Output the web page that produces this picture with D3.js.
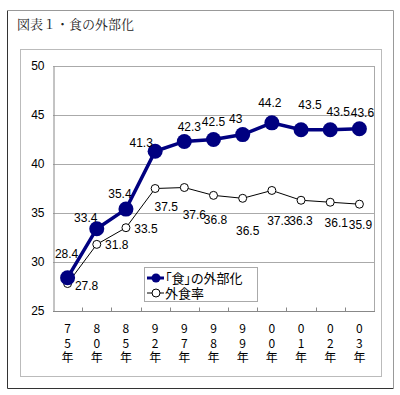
<!DOCTYPE html>
<html>
<head>
<meta charset="utf-8">
<script src="https://cdn.jsdelivr.net/npm/d3@7"></script>
<style>
  body { margin: 0; background: #fff; }
  svg { display: block; }
</style>
</head>
<body>
<svg id="chart" width="400" height="395"></svg>
<script>
const years = ['75', '80', '85', '92', '97', '98', '99', '00', '01', '02', '03'];
const gaibuka = [28.4, 33.4, 35.4, 41.3, 42.3, 42.5, 43, 44.2, 43.5, 43.5, 43.6];
const gaishoku = [27.8, 31.8, 33.5, 37.5, 37.6, 36.8, 36.5, 37.3, 36.3, 36.1, 35.9];
const yTicks = [25, 30, 35, 40, 45, 50];
const seriesNames = ['「食」の外部化', '外食率'];

// label nudges (dx, dy), relative to each point
const nudge1 = [[-1, -20], [-11, -7], [-6, -11], [-14, -4], [5, -10], [0, -14], [-7, -12], [-2, -16], [9, -21], [8, -14], [3, -12]];
const nudge2 = [[19, 6], [20, 5], [20, 5], [11, 22], [10, 31], [2, 29], [5, 37], [7, 35], [0, 25], [6, 25], [1, 25]];

const SVG = d3.select('#chart');
const JP = '"Noto Sans CJK JP", sans-serif';
const NUM = '"Liberation Sans", Arial, sans-serif';

// outer frame (inset look)
SVG.append('path').attr('d', 'M7.5,388.5 V10.5').attr('stroke', '#333').attr('fill', 'none');
SVG.append('path').attr('d', 'M7.5,388.5 H393.5').attr('stroke', '#333').attr('fill', 'none');
SVG.append('path').attr('d', 'M7.5,10.5 H393.5 V388.5').attr('stroke', '#999').attr('fill', 'none');

SVG.append('text')
  .text('図表１・食の外部化')
  .attr('x', 17).attr('y', 29)
  .style('font-family', '"Noto Serif CJK JP", ' + JP)
  .style('font-size', '13px')
  .style('fill', '#222');

// chart area frame
SVG.append('rect')
  .attr('x', 20.5).attr('y', 49.5).attr('width', 361).attr('height', 327)
  .attr('fill', 'none').attr('stroke', '#bbb');

const M = { left: 53, top: 66, right: 374, bottom: 311 };

const x = d3.scaleBand().domain(years).range([M.left, M.right]);
const y = d3.scaleLinear().domain([25, 50]).range([M.bottom, M.top]);
const cx = (i) => x(years[i]) + x.bandwidth() / 2;

// grid
SVG.append('g').selectAll('line')
  .data(yTicks.slice(1))
  .join('line')
  .attr('x1', M.left).attr('x2', M.right)
  .attr('y1', (d) => Math.round(y(d)) + 0.5).attr('y2', (d) => Math.round(y(d)) + 0.5)
  .attr('stroke', '#aaa');

SVG.append('line')
  .attr('x1', M.right + 0.5).attr('x2', M.right + 0.5)
  .attr('y1', M.top).attr('y2', M.bottom)
  .attr('stroke', '#aaa');

// y axis
const yAxis = SVG.append('g')
  .attr('transform', `translate(${M.left + 0.5},0)`)
  .call(d3.axisLeft(y).tickValues(yTicks).tickSize(0).tickPadding(9));
yAxis.select('.domain').attr('stroke', '#888');
yAxis.selectAll('text')
  .style('font-family', NUM).style('font-size', '12px').style('fill', '#000');

// x axis with inner ticks on band edges
const xAxisG = SVG.append('g').attr('transform', `translate(0,${M.bottom + 0.5})`);
xAxisG.append('line')
  .attr('x1', M.left).attr('x2', M.right + 1)
  .attr('stroke', '#888');
xAxisG.selectAll('.tk')
  .data(years.slice(1))
  .join('line')
  .attr('class', 'tk')
  .attr('x1', (d) => Math.round(x(d)) + 0.5).attr('x2', (d) => Math.round(x(d)) + 0.5)
  .attr('y1', 0).attr('y2', -4)
  .attr('stroke', '#888');

// vertical category labels: one text per character
const xLab = SVG.append('g');
[0, 1, 2].forEach((k) => {
  xLab.append('g').selectAll('text')
    .data(years)
    .join('text')
    .attr('x', (d) => x(d) + x.bandwidth() / 2)
    .attr('y', 333 + k * 14.5)
    .attr('text-anchor', 'middle')
    .text((d) => (k < 2 ? d[k] : '年'))
    .style('font-family', JP).style('font-size', '12px').style('fill', '#000');
});

// series 2: 外食率
const line = d3.line().x((d, i) => cx(i)).y((d) => y(d));
SVG.append('path')
  .datum(gaishoku)
  .attr('d', line)
  .attr('fill', 'none').attr('stroke', '#000').attr('stroke-width', 1);
SVG.append('g').selectAll('circle')
  .data(gaishoku)
  .join('circle')
  .attr('cx', (d, i) => cx(i)).attr('cy', (d) => y(d)).attr('r', 4)
  .attr('fill', '#fff').attr('stroke', '#000');

// series 1: 「食」の外部化
SVG.append('path')
  .datum(gaibuka)
  .attr('d', line)
  .attr('fill', 'none').attr('stroke', '#000080').attr('stroke-width', 3.5);
SVG.append('g').selectAll('circle')
  .data(gaibuka)
  .join('circle')
  .attr('cx', (d, i) => cx(i)).attr('cy', (d) => y(d)).attr('r', 7.5)
  .attr('fill', '#000080');

// data labels
const labels = (vals, nudge) => SVG.append('g').selectAll('text')
  .data(vals)
  .join('text')
  .text((d) => d)
  .attr('x', (d, i) => cx(i) + nudge[i][0])
  .attr('y', (d, i) => y(d) + nudge[i][1])
  .attr('text-anchor', 'middle')
  .style('font-family', NUM).style('font-size', '12px').style('fill', '#000');
labels(gaibuka, nudge1);
labels(gaishoku, nudge2);

// legend
const LG = SVG.append('g').attr('transform', 'translate(144,267)');
LG.append('rect')
  .attr('x', 0.5).attr('y', 0.5).attr('width', 113).attr('height', 34)
  .attr('fill', '#fff').attr('stroke', '#aaa');
seriesNames.forEach((name, i) => {
  const ly = 11 + i * 15;
  LG.append('line')
    .attr('x1', 3).attr('x2', 20).attr('y1', ly).attr('y2', ly)
    .attr('stroke', i === 0 ? '#000080' : '#000')
    .attr('stroke-width', i === 0 ? 3 : 1);
  LG.append('circle')
    .attr('cx', 12).attr('cy', ly).attr('r', i === 0 ? 4.5 : 4)
    .attr('fill', i === 0 ? '#000080' : '#fff')
    .attr('stroke', i === 0 ? 'none' : '#000');
  LG.append('text')
    .text(name)
    .attr('x', 21).attr('y', ly + 5)
    .style('font-family', JP).style('font-size', '13px')
    .style('font-feature-settings', '"palt"')
    .style('fill', '#000');
});
</script>
</body>
</html>
